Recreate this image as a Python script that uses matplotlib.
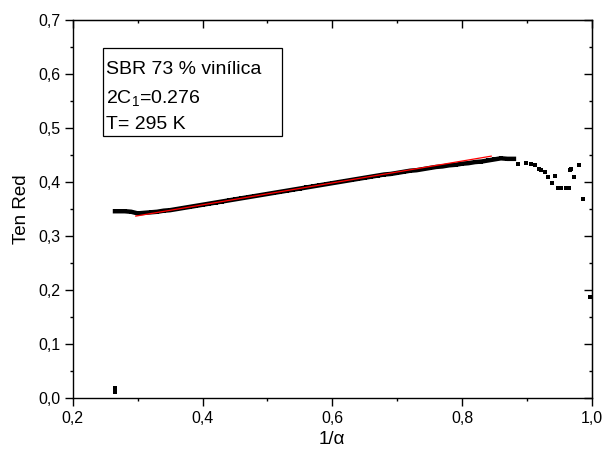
import numpy as np
import matplotlib
matplotlib.use("Agg")
import matplotlib.pyplot as plt
from matplotlib.patches import Rectangle
from matplotlib.ticker import MultipleLocator, FuncFormatter

plt.rcParams['font.family'] = ['Liberation Sans', 'DejaVu Sans']
plt.rcParams['mathtext.fontset'] = 'custom'
plt.rcParams['mathtext.rm'] = 'Liberation Sans'
plt.rcParams['mathtext.it'] = 'Liberation Sans'

# tensao reduzida vs 1/alpha
inv_alpha = [0.265, 0.270, 0.280, 0.290, 0.300, 0.310, 0.320, 0.330, 0.340, 0.350,
             0.360, 0.370, 0.380, 0.390, 0.400, 0.410, 0.420, 0.430, 0.440, 0.450,
             0.460, 0.470, 0.480, 0.490, 0.500, 0.510, 0.520, 0.530, 0.540, 0.550,
             0.560, 0.570, 0.580, 0.590, 0.600, 0.610, 0.620, 0.630, 0.640, 0.650,
             0.660, 0.670, 0.680, 0.690, 0.700, 0.710, 0.720, 0.730, 0.740, 0.750,
             0.760, 0.770, 0.780, 0.790, 0.800, 0.810, 0.820, 0.830, 0.840, 0.850,
             0.860, 0.870, 0.880]
ten_red = [0.346, 0.346, 0.346, 0.345, 0.342, 0.343, 0.344, 0.345, 0.347, 0.348,
           0.350, 0.352, 0.354, 0.356, 0.358, 0.360, 0.362, 0.364, 0.366, 0.368,
           0.370, 0.372, 0.374, 0.376, 0.378, 0.380, 0.382, 0.384, 0.386, 0.388,
           0.390, 0.392, 0.394, 0.396, 0.398, 0.400, 0.402, 0.404, 0.406, 0.408,
           0.410, 0.412, 0.414, 0.415, 0.417, 0.419, 0.421, 0.422, 0.424, 0.426,
           0.428, 0.429, 0.431, 0.432, 0.434, 0.435, 0.437, 0.438, 0.440, 0.442,
           0.444, 0.443, 0.443]

# pontos dispersos no final da curva e no inicio
tail_x = [0.886, 0.899, 0.907, 0.912, 0.919, 0.921, 0.928, 0.933, 0.938, 0.943,
          0.948, 0.952, 0.961, 0.965, 0.966, 0.968, 0.973, 0.980, 0.987, 0.997,
          0.265, 0.265]
tail_y = [0.433, 0.436, 0.433, 0.432, 0.425, 0.423, 0.418, 0.409, 0.399, 0.412,
          0.389, 0.389, 0.389, 0.389, 0.422, 0.424, 0.409, 0.431, 0.369, 0.187,
          0.018, 0.011]

# ajuste linear
fit_x = [0.297, 0.845]
fit_y = [0.337, 0.448]

fig = plt.figure(figsize=(6.02, 4.55), dpi=100)
ax = fig.add_axes([0.121, 0.125, 0.862, 0.831])

ax.plot(inv_alpha, ten_red, 's-', color='black', ms=3.4, lw=3.2, mew=0)
ax.plot(tail_x, tail_y, 's', color='black', ms=3.2, mew=0, ls='none')
ax.plot(fit_x, fit_y, '-', color='red', lw=0.9)

ax.set_xlim(0.2, 1.0)
ax.set_ylim(0.0, 0.7)
ax.xaxis.set_major_locator(MultipleLocator(0.2))
ax.xaxis.set_minor_locator(MultipleLocator(0.1))
ax.yaxis.set_major_locator(MultipleLocator(0.1))
ax.yaxis.set_minor_locator(MultipleLocator(0.05))
virgula = FuncFormatter(lambda v, p: f'{v:.1f}'.replace('.', ','))
ax.xaxis.set_major_formatter(virgula)
ax.yaxis.set_major_formatter(virgula)

for s in ax.spines.values():
    s.set_linewidth(1.0)
ax.tick_params(which='both', direction='out', top=False, right=False, width=1.0)
ax.tick_params(which='major', length=5.5, labelsize=11.5)
ax.tick_params(which='minor', length=2.5)

# eixos secundarios com ticks para dentro
sec_x = ax.secondary_xaxis('top')
sec_x.xaxis.set_major_locator(MultipleLocator(0.2))
sec_x.xaxis.set_minor_locator(MultipleLocator(0.1))
sec_x.tick_params(which='both', direction='in', labeltop=False, width=1.0)
sec_x.tick_params(which='major', length=5.5)
sec_x.tick_params(which='minor', length=2.5)
sec_y = ax.secondary_yaxis('right')
sec_y.yaxis.set_major_locator(MultipleLocator(0.1))
sec_y.yaxis.set_minor_locator(MultipleLocator(0.05))
sec_y.tick_params(which='both', direction='in', labelright=False, width=1.0)
sec_y.tick_params(which='major', length=5.5)
sec_y.tick_params(which='minor', length=2.5)

ax.set_xlabel('1/α', fontsize=13.5, labelpad=4)
ax.set_ylabel('Ten Red', fontsize=13.5, labelpad=6)

ax.add_patch(Rectangle((0.058, 0.693), 0.345, 0.233, transform=ax.transAxes,
                       fill=False, lw=0.9, ec='black'))
ax.text(0.064, 0.868, 'SBR 73 % vinílica', transform=ax.transAxes, fontsize=14, va='center')
ax.text(0.064, 0.794, '2C$_1$=0.276', transform=ax.transAxes, fontsize=14, va='center')
ax.text(0.064, 0.724, 'T= 295 K', transform=ax.transAxes, fontsize=14, va='center')

fig.savefig('out.png', dpi=100)
